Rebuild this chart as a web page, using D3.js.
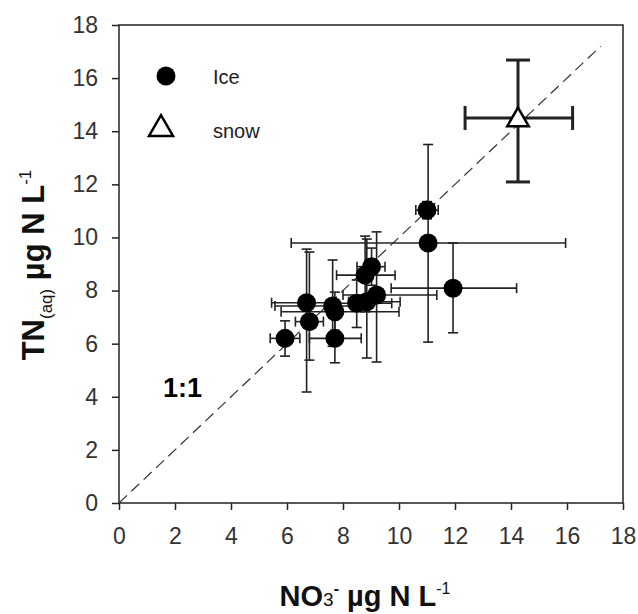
<!DOCTYPE html>
<html>
<head>
<meta charset="utf-8">
<script src="https://cdn.jsdelivr.net/npm/d3@7"></script>
<style>
  body { margin: 0; background: #fff; }
  svg text { font-family: "Liberation Sans", Arial, sans-serif; }
</style>
</head>
<body>
<div id="chart"></div>
<script>
// ice samples: NO3- (x) vs TN(aq) (y), with error ranges
const iceX   = [11.0, 11.04, 11.93, 9.02, 8.79, 9.2, 8.85, 8.49, 7.63, 7.71, 7.71, 6.7, 6.8, 5.93];
const iceY   = [11.03, 9.79, 8.09, 8.9, 8.58, 7.83, 7.58, 7.52, 7.42, 7.2, 6.2, 7.54, 6.83, 6.2];
const iceXlo = [10.6, 6.15, 9.72, 8.5, 7.77, 8.0, 8.2, 7.6, 5.57, 5.79, 6.8, 5.45, 6.3, 5.4];
const iceXhi = [11.4, 15.95, 14.2, 9.5, 9.86, 11.35, 10.04, 9.74, 8.8, 10.0, 8.65, 7.7, 7.3, 6.46];
const iceYlo = [10.7, 6.06, 6.41, 8.2, 7.2, 5.31, 5.46, 6.61, 5.9, 6.5, 5.28, 4.18, 5.38, 5.53];
const iceYhi = [11.35, 13.5, 9.79, 9.6, 10.05, 10.21, 9.94, 8.4, 9.15, 7.94, 7.0, 9.56, 9.45, 6.86];

// snow sample
const snowX = [14.25], snowY = [14.5];
const snowXlo = [12.36], snowXhi = [16.2];
const snowYlo = [12.09], snowYhi = [16.68];

const xTicks = [0, 2, 4, 6, 8, 10, 12, 14, 16, 18];
const yTicks = [0, 2, 4, 6, 8, 10, 12, 14, 16, 18];
const oneToOne = [0, 17.2];

const width = 638, height = 614;

const svg = d3.select('#chart')
    .append('svg')
        .attr('width', width)
        .attr('height', height);

const x = d3.scaleLinear().domain([0, 18]).range([119, 623]);
const y = d3.scaleLinear().domain([0, 18]).range([503, 25]);

// axes
const xAxis = svg.append('g')
    .attr('transform', `translate(0,${y(0)})`)
    .call(d3.axisBottom(x).tickValues(xTicks).tickSize(7).tickPadding(18).tickFormat(d3.format('d')));
const yAxis = svg.append('g')
    .attr('transform', `translate(${x(0)},0)`)
    .call(d3.axisLeft(y).tickValues(yTicks).tickSize(7).tickPadding(14).tickFormat(d3.format('d')));

[xAxis, yAxis].forEach(g => {
    g.select('.domain').remove();
    g.selectAll('line').attr('stroke', '#222').attr('stroke-width', 1.5);
    g.selectAll('text').attr('font-size', 23).attr('fill', '#333')
        .attr('font-family', '"Liberation Sans", Arial, sans-serif');
});

// frame
svg.append('rect')
    .attr('x', x(0)).attr('y', y(18))
    .attr('width', x(18) - x(0)).attr('height', y(0) - y(18))
    .attr('fill', 'none').attr('stroke', '#222').attr('stroke-width', 1.5);

// 1:1 line
svg.append('line')
    .attr('x1', x(oneToOne[0])).attr('y1', y(oneToOne[0]))
    .attr('x2', x(oneToOne[1])).attr('y2', y(oneToOne[1]))
    .attr('stroke', '#333').attr('stroke-width', 1.2)
    .attr('stroke-dasharray', '11,6');

svg.append('text')
    .attr('x', 163).attr('y', 397)
    .attr('font-size', 27).attr('font-weight', 'bold')
    .text('1:1');

// error bars
const drawErr = (xs, ys, xlo, xhi, ylo, yhi, cap, sw) => {
    const g = svg.append('g').attr('stroke', '#222').attr('stroke-width', sw);
    xs.forEach((d, i) => {
        const cx = x(d), cy = y(ys[i]);
        g.append('line').attr('x1', x(xlo[i])).attr('x2', x(xhi[i])).attr('y1', cy).attr('y2', cy);
        g.append('line').attr('x1', x(xlo[i])).attr('x2', x(xlo[i])).attr('y1', cy - cap).attr('y2', cy + cap);
        g.append('line').attr('x1', x(xhi[i])).attr('x2', x(xhi[i])).attr('y1', cy - cap).attr('y2', cy + cap);
        g.append('line').attr('x1', cx).attr('x2', cx).attr('y1', y(ylo[i])).attr('y2', y(yhi[i]));
        g.append('line').attr('x1', cx - cap).attr('x2', cx + cap).attr('y1', y(ylo[i])).attr('y2', y(ylo[i]));
        g.append('line').attr('x1', cx - cap).attr('x2', cx + cap).attr('y1', y(yhi[i])).attr('y2', y(yhi[i]));
    });
};

drawErr(iceX, iceY, iceXlo, iceXhi, iceYlo, iceYhi, 5, 1.6);
drawErr(snowX, snowY, snowXlo, snowXhi, snowYlo, snowYhi, 12, 3);

// ice points
svg.append('g').selectAll('circle')
    .data(iceX).enter()
    .append('circle')
        .attr('cx', d => x(d))
        .attr('cy', (d, i) => y(iceY[i]))
        .attr('r', 9.5)
        .attr('fill', '#000');

// snow point
const tri = d3.symbol().type(d3.symbolTriangle).size(200);
svg.append('g').selectAll('path')
    .data(snowX).enter()
    .append('path')
        .attr('d', tri)
        .attr('transform', (d, i) => `translate(${x(d)},${y(snowY[i]) + 2})`)
        .attr('fill', '#fff').attr('stroke', '#000').attr('stroke-width', 2.5);

// legend
svg.append('circle').attr('cx', 166).attr('cy', 76).attr('r', 9.5).attr('fill', '#000');
svg.append('text').attr('x', 213).attr('y', 84).attr('font-size', 20).attr('fill', '#222').text('Ice');
svg.append('path').attr('d', d3.symbol().type(d3.symbolTriangle).size(250))
    .attr('transform', 'translate(161,129)')
    .attr('fill', '#fff').attr('stroke', '#000').attr('stroke-width', 2.5);
svg.append('text').attr('x', 213).attr('y', 138).attr('font-size', 20).attr('fill', '#222').text('snow');

// x axis title
const xt = svg.append('text')
    .attr('x', 365).attr('y', 606)
    .attr('text-anchor', 'middle')
    .attr('font-size', 29).attr('font-weight', 'bold').attr('fill', '#111');
xt.append('tspan').text('NO');
xt.append('tspan').attr('font-size', 19).attr('font-weight', 'normal').text('3');
xt.append('tspan').attr('font-size', 16).attr('dy', -12).text('-');
xt.append('tspan').attr('dy', 12).text(' µg N L');
xt.append('tspan').attr('font-size', 16).attr('font-weight', 'normal').attr('dy', -12).text('-1');

// y axis title
const yt = svg.append('text')
    .attr('transform', 'translate(44,265) rotate(-90)')
    .attr('text-anchor', 'middle')
    .attr('font-size', 31).attr('font-weight', 'bold').attr('fill', '#111');
yt.append('tspan').text('TN');
yt.append('tspan').attr('font-size', 17).attr('font-weight', 'normal').attr('dy', 8).text('(aq)');
yt.append('tspan').attr('dy', -8).text(' µg N L');
yt.append('tspan').attr('font-size', 17).attr('font-weight', 'normal').attr('dy', -13).text('-1');
</script>
</body>
</html>
